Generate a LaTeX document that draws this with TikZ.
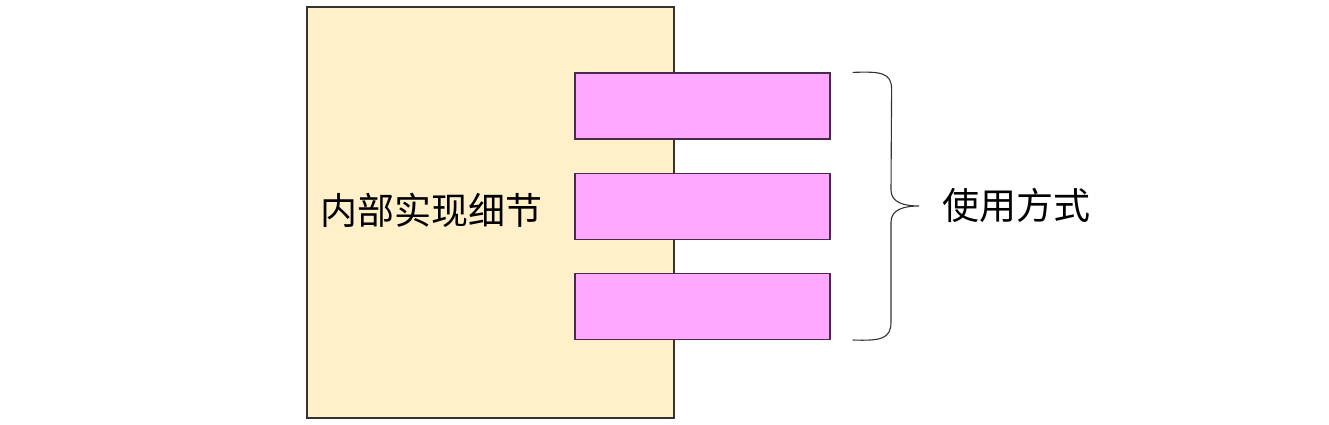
\documentclass[tikz,border=0pt]{standalone}
\usepackage{fontspec}
\setmainfont{Noto Sans CJK SC}
\usetikzlibrary{positioning}
\definecolor{innerfill}{HTML}{FFF0C9}
\definecolor{usefill}{HTML}{FFA8FF}
\definecolor{useline}{HTML}{4A2A4A}
\tikzset{
  innerbox/.style={draw=black!80,fill=innerfill,line width=1.2pt,
    minimum width=367pt,minimum height=411pt,inner sep=0pt},
  usebox/.style={draw=useline,fill=usefill,line width=1.2pt,
    minimum width=255pt,minimum height=66pt,inner sep=0pt},
  bigtext/.style={font=\fontsize{37}{42}\selectfont,inner sep=0pt}
}
\begin{document}
\begin{tikzpicture}[x=1pt,y=-1pt]
  \useasboundingbox[fill=white] (0,0) rectangle (1329,425);
  % inside
  \node[innerbox] (inner) at (490.5,212.5) {};
  \node[bigtext,anchor=west] (innerlabel) at (320,210) {内部实现细节};
  % ways of use
  \node[usebox] (use1) at (702.5,106) {};
  \node[usebox,below=33pt of use1] (use2) {};
  \node[usebox,below=33pt of use2] (use3) {};
  % brace
  \coordinate (btop) at ([xshift=22pt]use1.north east);
  \coordinate (bbot) at ([xshift=22pt]use3.south east);
  \coordinate (btip) at (919,206);
  \draw[line width=1.1pt,black!80] (btop)
    .. controls +(28,-1) and +(0,-17) .. ++(39,17) -- (891,190)
    .. controls +(0,13) and +(-14,0) .. (btip)
    .. controls +(-14,0) and +(0,-13) .. (891,222) -- (891,322)
    .. controls +(0,17) and +(28,1) .. (bbot);
  \node[bigtext,anchor=west] (uselabel) at (942,205) {使用方式};
\end{tikzpicture}
\end{document}
